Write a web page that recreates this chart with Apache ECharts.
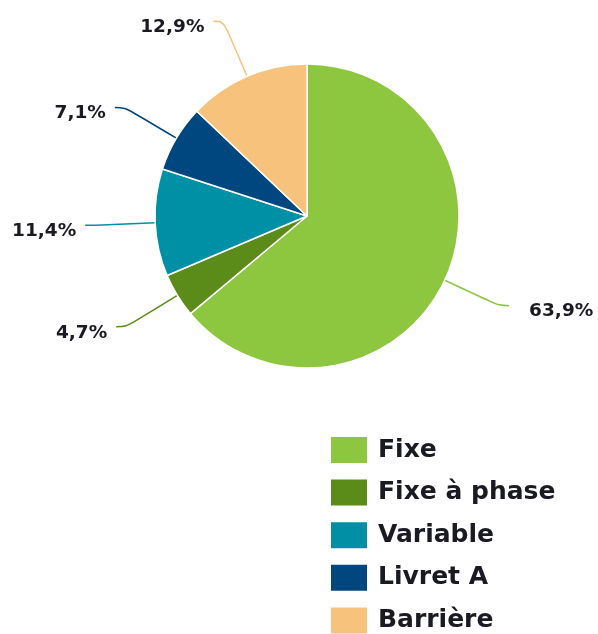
<!DOCTYPE html>
<html>
<head>
<meta charset="utf-8">
<script src="https://cdn.jsdelivr.net/npm/echarts@6/dist/echarts.min.js"></script>
<style>
  html, body { margin: 0; padding: 0; background: #ffffff; }
  #chart { width: 598px; height: 634px; }
</style>
</head>
<body>
<div id="chart"></div>
<script>
// Data
var categories = ['Fixe', 'Fixe à phase', 'Variable', 'Livret A', 'Barrière'];
var shares = [63.9, 4.7, 11.4, 7.1, 12.9];
var colors = ['#8dc63f', '#5b8c1a', '#0090a6', '#00467f', '#f7c37c'];

var data = [];
categories.forEach(function (name, i) {
  var item = { name: name, value: shares[i], itemStyle: { color: colors[i] } };
  // the big slice's label sits a bit further from its line
  if (i === 0) item.label = { distanceToLabelLine: 20 };
  data.push(item);
});

var chart = echarts.init(document.getElementById('chart'), null, { renderer: 'canvas' });

var option = {
  backgroundColor: '#ffffff',
  animation: false,
  legend: {
    orient: 'vertical',
    left: 329,
    top: 435,
    height: 220,
    padding: 0,
    itemWidth: 38,
    itemHeight: 28,
    itemGap: 12.6,
    icon: 'rect',
    data: categories,
    textStyle: {
      fontFamily: 'DejaVu Sans',
      fontWeight: 'bold',
      fontSize: 25,
      color: '#1a1a22',
      padding: [0, 0, 0, 5]
    }
  },
  series: [
    {
      type: 'pie',
      center: [307, 216],
      radius: [0, 152],
      startAngle: 90,
      clockwise: true,
      data: data,
      itemStyle: {
        borderColor: '#ffffff',
        borderWidth: 1.5
      },
      label: {
        show: true,
        // small empty first line pushes the value a little below the line end
        formatter: function (p) {
          return '{s| }\n' + p.value.toFixed(1).replace('.', ',') + '%';
        },
        fontFamily: 'DejaVu Sans',
        fontWeight: 'bold',
        fontSize: 18.5,
        lineHeight: 22,
        color: '#1a1a22',
        overflow: 'none',
        bleedMargin: 0,
        distanceToLabelLine: 9,
        rich: {
          s: { fontSize: 1, lineHeight: 12 }
        }
      },
      labelLine: {
        show: true,
        length: 60,
        length2: 10,
        smooth: 0.4,
        lineStyle: { width: 1.5 }
      }
    }
  ]
};

chart.setOption(option);
</script>
</body>
</html>
